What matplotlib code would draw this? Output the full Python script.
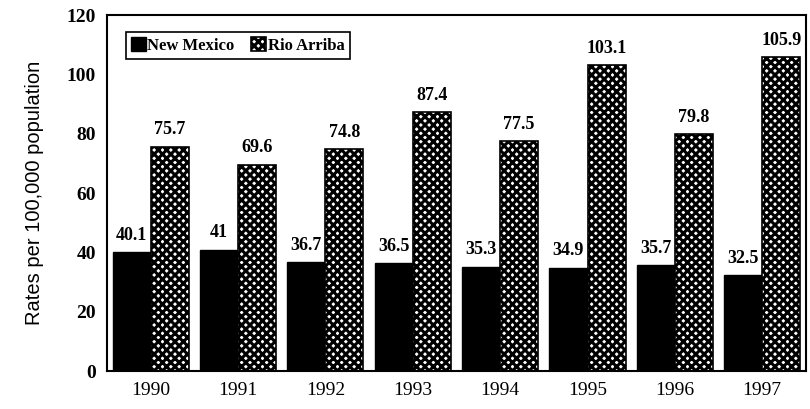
import numpy as np
import matplotlib.pyplot as plt

years = ["1990", "1991", "1992", "1993", "1994", "1995", "1996", "1997"]
new_mexico = [40.1, 41, 36.7, 36.5, 35.3, 34.9, 35.7, 32.5]
rio_arriba = [75.7, 69.6, 74.8, 87.4, 77.5, 103.1, 79.8, 105.9]
yticks = [0, 20, 40, 60, 80, 100, 120]

plt.rcParams['hatch.linewidth'] = 2.2
serif = ['Liberation Serif', 'DejaVu Serif']

fig = plt.figure(figsize=(8.1, 4.09), dpi=100)
ax = fig.add_axes([0.132, 0.092, 0.863, 0.871])

x = np.arange(len(years))
w = 0.435
b1 = ax.bar(x - w/2, new_mexico, w, color='black', edgecolor='black', label='New Mexico')
b2 = ax.bar(x + w/2, rio_arriba, w, color='white', edgecolor='black', hatch='xxxx',
            linewidth=1.2, label='Rio Arriba')

for bars, vals in ((b1, new_mexico), (b2, rio_arriba)):
	for r, v in zip(bars, vals):
		ax.annotate(f"{v:g}", (r.get_x() + r.get_width()/2, v), xytext=(0, 6),
		            textcoords='offset points', ha='center', va='bottom',
		            family=serif, weight='bold', fontsize=13)

ax.set_xlim(-0.5, len(years) - 0.5)
ax.set_ylim(0, 120)
ax.set_xticks(x)
ax.set_xticklabels(years, family=serif, fontsize=14)
ax.set_yticks(yticks)
ax.set_yticklabels([str(t) for t in yticks], family=serif, weight='bold', fontsize=14)
ax.tick_params(length=0, pad=8)
ax.set_ylabel("Rates per 100,000 population", family='Liberation Sans', fontsize=14.5, labelpad=16)
for s in ax.spines.values():
	s.set_linewidth(1.5)

leg = ax.legend(loc='upper left', ncol=2, prop={'family': serif, 'weight': 'bold', 'size': 12},
                handlelength=0.9, handleheight=0.9, handletextpad=0.1, columnspacing=1.0,
                borderpad=0.3, fancybox=False, framealpha=1, edgecolor='black',
                bbox_to_anchor=(0.015, 0.975))
leg.get_frame().set_linewidth(1.2)

fig.savefig("out.png", dpi=100)
